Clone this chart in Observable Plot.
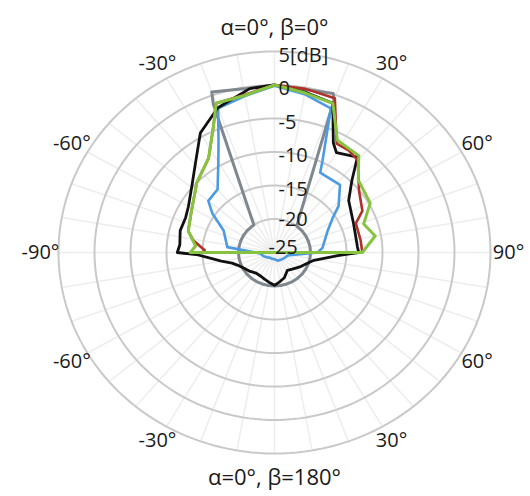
<!DOCTYPE html>
<html>
<head>
<meta charset="utf-8">
<script src="https://cdn.jsdelivr.net/npm/d3@7"></script>
<script src="https://cdn.jsdelivr.net/npm/@observablehq/plot@0.6"></script>
<style>
  html, body { margin: 0; padding: 0; background: #fff; }
  #chart svg { display: block; }
</style>
</head>
<body>
<div id="chart"></div>
<script>
// ---- data (angle in degrees, clockwise from top; level in dB) ----
const ringDb = [5, 0, -5, -10, -15, -20, -25];
const ringText = ["5[dB]", "0", "-5", "-10", "-15", "-20", "-25"];
const angleLabelAt = [-150, -120, -90, -60, -30, 30, 60, 90, 120, 150];
const angleLabelText = ["-30°", "-60°", "-90°", "-60°", "-30°", "30°", "60°", "90°", "60°", "30°"];
const titleTop = "α=0°, β=0°";
const titleBottom = "α=0°, β=180°";

const grayAngle = [-180,-170,-160,-150,-140,-130,-120,-110,-100,-90,-80,-70,-60,-50,-40,-35,-21,-20,-10,0,10,19,20,38,40,50,60,70,80,90,100,110,120,130,140,150,160,170,180];
const grayDb    = [-20,-20,-20,-20,-20,-20,-20,-20,-20,-20,-20,-20,-20,-20,-20,-20,-1.3,0.5,-0.2,0,-0.3,0.1,-0.9,-20,-20,-20,-20,-20,-20,-20,-20,-20,-20,-20,-20,-20,-20,-20,-20];

const blueAngle = [-180,-160,-140,-128,-110,-94,-83,-65,-56,-50,-40,-30,-25,-20,-10,0,10,20,26,28,42,52,57,66,84,90,104,130,160,180];
const blueDb    = [-24,-24,-24,-23.8,-23.4,-23,-18.4,-17.2,-14.6,-13,-12.7,-9.4,-6.6,-2.1,-1.3,-0.1,-1.0,-2.1,-9.8,-11.5,-11.4,-13.7,-15.3,-16.9,-18.3,-19,-23.1,-23.5,-23.7,-24];

const blackAngle = [-180,-170,-160,-150,-140,-130,-120,-110,-105,-100,-92,-90,-85,-76,-67,-60,-49,-39,-30,-20,-8,0,10,20,26.5,30,39,45,53,68.5,86,90,93,102,110,120,135,146,160,170,180];
const blackDb    = [-20.1,-20.5,-20.8,-21,-21,-20.6,-20.2,-19.5,-18.9,-17.5,-14.4,-11.5,-11.8,-11.5,-11.6,-11.2,-9.8,-7.6,-4.4,-2.0,-0.3,0,-0.7,-1.3,-6.7,-7.8,-6.7,-9.8,-12.1,-13.2,-13.45,-13.3,-16.2,-19.4,-20.2,-20.8,-21.5,-21.8,-21,-20.6,-20.1];

const redAngle = [-90,-88,-81,-75,-63,-46,-33,-24,-20,-10,0,10,20,28,34,40,52,63,69,81,90,-90];
const redDb    = [-15,-15.3,-13.6,-12.6,-12,-10,-8.2,-4.2,-1.3,-1.1,0,-0.2,-0.5,-6.6,-6.6,-7,-10.1,-11.3,-12.9,-12.9,-12.8,-15];

const greenAngle = [-90,-85,-75,-63,-46,-33,-24,-20,-10,0,10,20,27.5,39,47,61,71,80,90,-90];
const greenDb    = [-13.3,-14,-12.6,-12,-10,-8.2,-4.2,-1.3,-1.2,0,-0.8,-1.3,-6.1,-6.4,-9.1,-9.8,-11.9,-10.8,-12.8,-13.3];

// ---- helpers ----
const R0 = 25; // radius offset: -25 dB at centre
const rad = a => a * Math.PI / 180;
const series = (angles, dbs) => angles.map((a, i) => ({a, v: dbs[i]}));
const px = d => (d.v + R0) * Math.sin(rad(d.a));
const py = d => (d.v + R0) * Math.cos(rad(d.a));

// grid built from the ring ticks
const ringGrid = ringDb.filter(v => v > -25).flatMap(v =>
  d3.range(0, 361, 2).map(a => ({a, v, ring: v})));
const spokes = d3.range(0, 360, 10).map(a => ({a}));
const outer = ringDb[0] + R0;

const font = "'Open Sans', 'Noto Sans', sans-serif";
const ink = "#1a1a1a";

const chart = Plot.plot({
  width: 530,
  height: 496,
  marginLeft: 58,
  marginRight: 40,
  marginTop: 51,
  marginBottom: 43,
  style: {fontFamily: font, background: "#fff", overflow: "visible"},
  x: {domain: [-outer, outer], axis: null},
  y: {domain: [-outer, outer], axis: null},
  marks: [
    Plot.link(spokes, {
      x1: 0, y1: 0,
      x2: d => outer * Math.sin(rad(d.a)),
      y2: d => outer * Math.cos(rad(d.a)),
      stroke: "#ededed", strokeWidth: 1.5
    }),
    Plot.line(ringGrid, {x: px, y: py, z: "ring", stroke: "#c9c9c9", strokeWidth: 2}),
    Plot.line(series(grayAngle, grayDb), {x: px, y: py, stroke: "#7f888e", strokeWidth: 3, strokeLinejoin: "round"}),
    Plot.line(series(blueAngle, blueDb), {x: px, y: py, stroke: "#4c9be0", strokeWidth: 2.6, strokeLinejoin: "round"}),
    Plot.line(series(blackAngle, blackDb), {x: px, y: py, stroke: "#111111", strokeWidth: 2.8, strokeLinejoin: "round"}),
    Plot.line(series(redAngle, redDb), {x: px, y: py, stroke: "#b0302a", strokeWidth: 2.6, strokeLinejoin: "round"}),
    Plot.line(series(greenAngle, greenDb), {x: px, y: py, stroke: "#86c440", strokeWidth: 3, strokeLinejoin: "round"}),
    Plot.text(ringDb.slice(0, 5), {
      x: 0, y: d => d + R0,
      text: (d, i) => ringText[i],
      textAnchor: "start", dx: 4, dy: 4,
      fontSize: 20, fill: ink, fontFamily: font
    }),
    Plot.text(ringDb.slice(5, 6), {
      x: 0, y: d => d + R0,
      text: (d, i) => ringText[5 + i],
      textAnchor: "start", dx: 4, dy: 1,
      fontSize: 20, fill: ink, fontFamily: font
    }),
    Plot.text(ringDb.slice(6), {
      x: 0, y: d => d + R0,
      text: (d, i) => ringText[6 + i],
      textAnchor: "start", dx: -6, dy: -5,
      fontSize: 20, fill: ink, fontFamily: font
    }),
    Plot.text(angleLabelAt, {
      x: a => 32.5 * Math.sin(rad(a)),
      y: a => 32.5 * Math.cos(rad(a)),
      text: (d, i) => angleLabelText[i],
      fontSize: 20, fill: ink, fontFamily: font
    }),
    Plot.text([titleTop], {frameAnchor: "top", dy: -32, text: d => d, fontSize: 22, fill: ink, fontFamily: font}),
    Plot.text([titleBottom], {frameAnchor: "bottom", dy: 31, text: d => d, fontSize: 22, fill: ink, fontFamily: font})
  ]
});
document.getElementById("chart").appendChild(chart);
</script>
</body>
</html>
